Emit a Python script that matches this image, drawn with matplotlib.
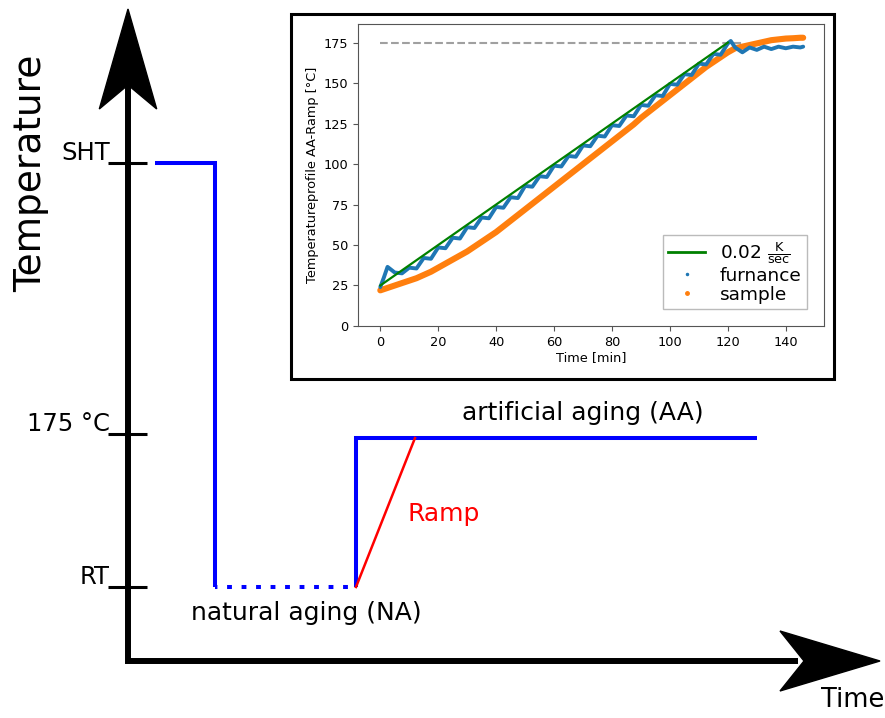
"""Heat-treatment schematic (SHT -> NA -> AA) with the measured AA ramp inset."""

import matplotlib

matplotlib.use("Agg")
import matplotlib.pyplot as plt
from matplotlib.lines import Line2D
from matplotlib.patches import Polygon, Rectangle

# --- schematic (arbitrary units: 1 unit along either axis is the same length)
LEVEL_NAMES = ["SHT", "175 °C", "RT"]
LEVELS = [4.98, 2.27, 0.74]          # temperature levels on the schematic axis
T_SHT_START = 0.27                   # solution heat treatment begins
T_QUENCH = 0.87                      # quench to room temperature
T_NA_END = 2.28                      # end of natural aging
T_RAMP_END = 2.87                    # ramp reaches 175 °C
T_AA_END = 6.29                      # end of artificial aging

# --- measured AA ramp (inset)
RAMP_T = [0, 120]
RAMP_V = [25, 175]
TARGET = 175
TARGET_T = [0, 125]

FURNACE_T = [0, 1.25, 2.5, 5, 7.5, 10, 12.5, 15, 17.5, 20, 22.5, 25, 27.5, 30,
             32.5, 35, 37.5, 40, 42.5, 45, 47.5, 50, 52.5, 55, 57.5, 60, 62.5,
             65, 67.5, 70, 72.5, 75, 77.5, 80, 82.5, 85, 87.5, 90, 92.5, 95,
             97.5, 100, 102.5, 105, 107.5, 110, 112.5, 115, 117.5, 120, 121,
             122.5, 125, 127.5, 130, 132.5, 135, 137.5, 140, 142.5, 145, 146]
FURNACE_V = [24, 30, 36.5, 33, 32.5, 36, 35.5, 42, 41.5, 48.5, 48, 54.5, 54,
             61, 60.5, 67, 66.5, 73.5, 73, 79.5, 79, 86.5, 86, 92.5, 92, 99,
             98.5, 105, 104.5, 111.5, 111, 117.5, 117, 124, 123.5, 130, 129.5,
             136.5, 136, 142.5, 142, 149.5, 149, 155.5, 155, 162, 161.5, 168,
             167.5, 174.5, 176, 172, 169, 172, 170.5, 172.5, 171, 172.5, 171.5,
             172.5, 172, 172.5]

SAMPLE_T = [0, 2.5, 5, 7.5, 10, 12.5, 15, 17.5, 20, 22.5, 25, 27.5, 30, 32.5,
            35, 37.5, 40, 42.5, 45, 47.5, 50, 52.5, 55, 57.5, 60, 62.5, 65,
            67.5, 70, 72.5, 75, 77.5, 80, 82.5, 85, 87.5, 90, 92.5, 95, 97.5,
            100, 102.5, 105, 107.5, 110, 112.5, 115, 117.5, 120, 122.5, 125,
            127.5, 130, 132.5, 135, 137.5, 140, 142.5, 145, 146]
SAMPLE_V = [22, 23.5, 25, 26.5, 28, 29.5, 31.5, 33.5, 36, 38.5, 41, 43.5, 46,
            49, 52, 55, 58, 61.5, 65, 68.5, 72, 75.5, 79, 82.5, 86, 89.5, 93,
            96.5, 100, 103.5, 107, 110.5, 114, 117.5, 121, 124.5, 128.5, 132,
            135.5, 139, 142.5, 146, 149.5, 153, 156.5, 160, 163, 166, 169,
            171.5, 172.5, 173.5, 174.5, 175.5, 176.5, 177, 177.5, 177.7, 178,
            178]

BLUE, RED = "#0000ff", "#ff0000"

fig = plt.figure(figsize=(8.85, 7.18), dpi=100)
ax = fig.add_axes([0, 0, 1, 1])
ax.set_xlim(-1.28, 7.57)
ax.set_ylim(-0.57, 6.61)
ax.axis("off")

# axes of the schematic: shaft + notched arrow heads
ax.plot([0, 0, 6.7], [5.8, 0, 0], color="black", lw=4.3,
        solid_joinstyle="miter", solid_capstyle="butt")
ax.add_patch(Polygon([(0, 6.52), (-0.287, 5.52), (0, 5.76), (0.287, 5.52)],
                     closed=True, color="black"))
ax.add_patch(Polygon([(7.52, 0), (6.52, 0.30), (6.76, 0), (6.52, -0.30)],
                     closed=True, color="black"))

for name, lev in zip(LEVEL_NAMES, LEVELS):
    ax.plot([-0.2, 0.19], [lev, lev], color="black", lw=2.2,
            solid_capstyle="butt")
    ax.text(-0.18, lev + 0.035, name, ha="right", va="baseline", fontsize=17.5)

sht, aa, rt = LEVELS
ax.plot([T_SHT_START, T_QUENCH, T_QUENCH], [sht, sht, rt], color=BLUE, lw=2.9,
        solid_joinstyle="miter", solid_capstyle="butt")
ax.plot([T_QUENCH, T_NA_END], [rt, rt], color=BLUE, lw=2.9,
        ls=(0.6, (1.2, 2.4)), dash_capstyle="butt")
ax.plot([T_NA_END, T_NA_END, T_AA_END], [rt, aa - 0.04, aa - 0.04], color=BLUE,
        lw=2.9, solid_joinstyle="miter", solid_capstyle="butt")
ax.plot([T_NA_END, T_RAMP_END], [rt, aa - 0.04], color=RED, lw=1.8)

ax.text(4.55, aa + 0.21, "artificial aging (AA)", ha="center", va="center",
        fontsize=18)
ax.text(1.785, rt - 0.26, "natural aging (NA)", ha="center", va="center",
        fontsize=18)
ax.text(2.79, 1.47, "Ramp", color=RED, ha="left", va="center", fontsize=18)
ax.text(7.25, -0.39, "Time", ha="center", va="center", fontsize=18.5)
ax.text(-0.97, 4.88, "Temperature", rotation=90, ha="center", va="center",
        fontsize=27)

# --- inset with the measured profile
fig.add_artist(Rectangle((291 / 885, 1 - 379 / 718), 543 / 885, 365 / 718,
                         transform=fig.transFigure, fill=False,
                         edgecolor="black", lw=2.2, zorder=5))
ins = fig.add_axes([0.4045, 0.546, 0.5266, 0.4206], zorder=6)
ins.plot(TARGET_T, [TARGET, TARGET], color="#a0a0a0", ls="--", lw=1.5)
ins.plot(SAMPLE_T, SAMPLE_V, color="#ff7f0e", lw=4.4, solid_capstyle="round")
ins.plot(FURNACE_T, FURNACE_V, color="#1f77b4", lw=2.8,
         solid_capstyle="round", solid_joinstyle="round")
ins.plot(RAMP_T, RAMP_V, color="green", lw=1.6)
ins.set_xlim(-7.7, 153.2)
ins.set_ylim(0, 186.5)
ins.set_xticks(range(0, 141, 20))
ins.set_yticks(range(0, 176, 25))
ins.tick_params(labelsize=9.3, color="#555555")
for sp in ins.spines.values():
    sp.set_color("#555555")
ins.set_xlabel("Time [min]", fontsize=9.3, labelpad=2)
ins.set_ylabel("Temperatureprofile AA-Ramp [°C]", fontsize=9.3, labelpad=3)

handles = [
    Line2D([], [], color="green", lw=2),
    Line2D([], [], color="#1f77b4", marker=".", ms=3, ls="none"),
    Line2D([], [], color="#ff7f0e", marker="o", ms=2.5, ls="none"),
]
labels = [r"0.02 $\frac{\mathrm{K}}{\mathrm{sec}}$", "furnance", "sample"]
ins.legend(handles, labels, loc="lower right", fontsize=13.3, fancybox=False,
           edgecolor="#aaaaaa", labelspacing=0.05, borderpad=0.3,
           borderaxespad=0.9, handletextpad=0.8)

fig.savefig("out.png", dpi=100)
